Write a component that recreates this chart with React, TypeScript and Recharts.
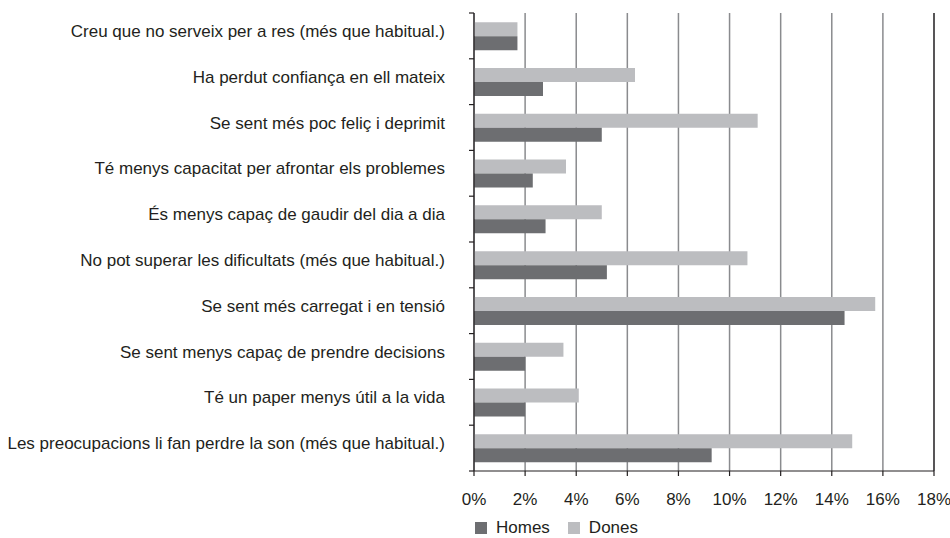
import { BarChart, Bar, XAxis, YAxis, CartesianGrid, ReferenceLine } from 'recharts';

const categories = [
    'Creu que no serveix per a res (més que habitual.)',
    'Ha perdut confiança en ell mateix',
    'Se sent més poc feliç i deprimit',
    'Té menys capacitat per afrontar els problemes',
    'És menys capaç de gaudir del dia a dia',
    'No pot superar les dificultats (més que habitual.)',
    'Se sent més carregat i en tensió',
    'Se sent menys capaç de prendre decisions',
    'Té un paper menys útil a la vida',
    'Les preocupacions li fan perdre la son (més que habitual.)',
];

const homes = [1.7, 2.7, 5.0, 2.3, 2.8, 5.2, 14.5, 2.0, 2.0, 9.3];
const dones = [1.7, 6.3, 11.1, 3.6, 5.0, 10.7, 15.7, 3.5, 4.1, 14.8];

const xTicks = [0, 2, 4, 6, 8, 10, 12, 14, 16, 18];

const HOMES_COLOR = '#6d6e71';
const DONES_COLOR = '#bcbdc0';
const TEXT_COLOR = '#231f20';
const FONT = '"Liberation Sans", Arial, sans-serif';

const chartData = categories.map((name, i) => ({
    name,
    homes: homes[i],
    dones: dones[i],
}));

const WIDTH = 950;
const HEIGHT = 538;
const MARGIN = { top: 13, right: 16, left: 0, bottom: 0 };
const Y_AXIS_WIDTH = 474;
const X_AXIS_HEIGHT = 37;
const LEGEND_HEIGHT = 30;
const plotHeight = HEIGHT - MARGIN.top - X_AXIS_HEIGHT - LEGEND_HEIGHT;
const band = plotHeight / categories.length;

// etiqueta de categoria + marca a la vora de la banda
// eslint-disable-next-line @typescript-eslint/no-explicit-any
const CategoryTick = ({ x, y, payload, index }: any) => {
    const axisX = x + 29;
    const last = index === categories.length - 1;
    return (
        <g>
            <line x1={axisX - 5} x2={axisX} y1={y - band / 2} y2={y - band / 2} stroke="#231f20" strokeWidth={1.2} />
            {last && (
                <line x1={axisX - 5} x2={axisX} y1={y + band / 2} y2={y + band / 2} stroke="#231f20" strokeWidth={1.2} />
            )}
            <text
                x={x}
                y={y}
                dy={1}
                textAnchor="end"
                fontSize={17}
                fontFamily={FONT}
                fill={TEXT_COLOR}
            >
                {payload.value}
            </text>
        </g>
    );
};

const LegendBox = () => (
    <div
        style={{
            position: 'absolute',
            left: 475,
            top: 520,
            height: 16,
            lineHeight: '16px',
            display: 'flex',
            alignItems: 'center',
            fontFamily: FONT,
            fontSize: 17,
            color: TEXT_COLOR,
        }}
    >
        <span style={{ width: 12, height: 12, background: HOMES_COLOR, display: 'inline-block', marginRight: 9 }} />
        <span style={{ marginRight: 18 }}>Homes</span>
        <span style={{ width: 12, height: 12, background: DONES_COLOR, display: 'inline-block', marginRight: 9 }} />
        <span>Dones</span>
    </div>
);

export default function App() {
    return (
        <div style={{ position: 'absolute', left: 0, top: 0, width: WIDTH, height: HEIGHT, background: '#fff' }}>
            <BarChart
                width={WIDTH}
                height={HEIGHT - LEGEND_HEIGHT}
                data={chartData}
                layout="vertical"
                margin={MARGIN}
                barCategoryGap="20%"
                barGap={0}
            >
                <CartesianGrid horizontal={false} stroke="#8a8b8e" strokeWidth={1.5} />
                <XAxis
                    type="number"
                    domain={[0, 18]}
                    ticks={xTicks}
                    tickFormatter={(v: number) => `${v}%`}
                    height={X_AXIS_HEIGHT}
                    interval={0}
                    tick={{ fontSize: 17, fill: TEXT_COLOR, fontFamily: FONT }}
                    axisLine={{ stroke: '#231f20', strokeWidth: 1.2 }}
                    tickLine={{ stroke: '#231f20', strokeWidth: 1.2 }}
                    tickSize={5}
                    tickMargin={17}
                />
                <YAxis
                    type="category"
                    dataKey="name"
                    width={Y_AXIS_WIDTH}
                    interval={0}
                    tick={<CategoryTick />}
                    tickLine={false}
                    tickSize={5}
                    tickMargin={24}
                    axisLine={{ stroke: '#231f20', strokeWidth: 1.2 }}
                />
                <ReferenceLine x={18} stroke="#231f20" strokeWidth={1.2} />
                <Bar dataKey="dones" name="Dones" fill={DONES_COLOR} isAnimationActive={false} />
                <Bar dataKey="homes" name="Homes" fill={HOMES_COLOR} isAnimationActive={false} />
            </BarChart>
            <LegendBox />
        </div>
    );
}
